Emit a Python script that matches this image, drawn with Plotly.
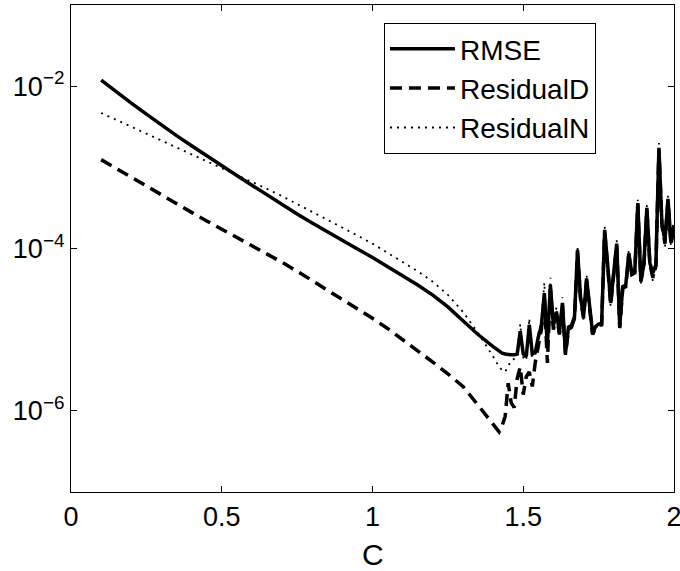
import plotly.graph_objects as go

# x values (c)
c_vals = [0.10, 0.15, 0.20, 0.25, 0.30, 0.35, 0.40, 0.45, 0.50, 0.55, 0.60, 0.65, 0.70,
          0.75, 0.80, 0.85, 0.90, 0.95, 1.00, 1.05, 1.10, 1.15, 1.20, 1.25, 1.30, 1.35, 1.40,
          1.41, 1.42, 1.43, 1.44, 1.45, 1.46, 1.47, 1.48, 1.49, 1.50,
          1.51, 1.52, 1.53, 1.54, 1.55, 1.56, 1.57, 1.58, 1.59, 1.60,
          1.61, 1.62, 1.63, 1.64, 1.65, 1.66, 1.67, 1.68, 1.69, 1.70,
          1.71, 1.72, 1.73, 1.74, 1.75, 1.76, 1.77, 1.78, 1.79, 1.80,
          1.81, 1.82, 1.83, 1.84, 1.85, 1.86, 1.87, 1.88, 1.89, 1.90,
          1.91, 1.92, 1.93, 1.94, 1.95, 1.96, 1.97, 1.98, 1.99, 2.00]

# series values, stored as log10 of the value
rmse_log10 = [-1.925, -2.07, -2.21, -2.345, -2.48, -2.61, -2.735, -2.86, -2.98, -3.10, -3.22, -3.34, -3.46,
              -3.575, -3.685, -3.795, -3.90, -4.005, -4.11, -4.22, -4.33, -4.45, -4.575, -4.72, -4.89, -5.06, -5.21,
              -5.24, -5.27, -5.29, -5.30, -5.31, -5.31, -5.31, -5.30, -5.02, -5.30,
              -5.33, -4.94, -5.30, -5.28, -5.09, -4.95, -4.55, -5.20, -4.45, -4.95,
              -4.78, -5.04, -4.67, -5.29, -4.97, -4.95, -4.84, -4.02, -4.60, -4.84,
              -4.37, -4.70, -5.04, -4.96, -4.93, -4.92, -3.77, -4.20, -4.67, -4.30,
              -3.94, -4.96, -4.47, -4.45, -4.06, -4.30, -4.28, -3.44, -4.39, -4.20,
              -3.50, -4.18, -4.30, -4.20, -2.76, -3.70, -3.90, -3.39, -3.93, -3.71]

residualD_log10 = [-2.905, -3.015, -3.125, -3.23, -3.34, -3.45, -3.555, -3.66, -3.76, -3.86, -3.965, -4.07, -4.17,
                   -4.28, -4.395, -4.51, -4.625, -4.74, -4.86, -4.985, -5.12, -5.255, -5.40, -5.545, -5.70, -5.93, -6.17,
                   -6.21, -6.26, -6.18, -6.07, -5.66, -5.90, -5.96, -5.60, -5.46, -5.80,
                   -5.58, -5.52, -5.70, -5.40, -5.20, -5.00, -4.60, -5.41, -4.50, -5.00,
                   -4.80, -5.06, -4.70, -5.31, -5.00, -4.97, -4.86, -4.05, -4.62, -4.86,
                   -4.40, -4.72, -5.06, -4.98, -4.95, -4.94, -3.80, -4.22, -4.69, -4.32,
                   -3.96, -4.98, -4.49, -4.47, -4.08, -4.32, -4.30, -3.46, -4.41, -4.22,
                   -3.52, -4.20, -4.36, -4.22, -2.78, -3.72, -3.94, -3.41, -3.95, -3.72]

residualN_log10 = [-2.33, -2.415, -2.50, -2.58, -2.665, -2.75, -2.835, -2.92, -3.005, -3.09, -3.18, -3.265, -3.355,
                   -3.45, -3.545, -3.645, -3.745, -3.84, -3.94, -4.05, -4.16, -4.28, -4.41, -4.57, -4.78, -5.04, -5.33,
                   -5.40, -5.46, -5.50, -5.52, -5.45, -5.38, -5.36, -5.30, -4.93, -5.34,
                   -5.38, -4.86, -5.34, -5.32, -5.05, -4.90, -4.42, -5.24, -4.36, -4.98,
                   -4.72, -5.08, -4.60, -5.33, -4.99, -4.96, -4.86, -3.97, -4.63, -4.88,
                   -4.32, -4.72, -5.08, -4.98, -4.95, -4.94, -3.73, -4.22, -4.72, -4.33,
                   -3.90, -5.00, -4.50, -4.48, -4.02, -4.33, -4.31, -3.40, -4.43, -4.24,
                   -3.46, -4.22, -4.40, -4.24, -2.70, -3.74, -3.98, -3.35, -3.97, -3.74]

x_ticks = [0, 0.5, 1, 1.5, 2]
x_ticktext = ["0", "0.5", "1", "1.5", "2"]
y_ticks = [1e-6, 1e-4, 1e-2]
y_ticktext = ["10<sup>\u22126</sup>", "10<sup>\u22124</sup>", "10<sup>\u22122</sup>"]
x_label = "C"

rmse = [10 ** v for v in rmse_log10]
resD = [10 ** v for v in residualD_log10]
resN = [10 ** v for v in residualN_log10]

FONT = "Liberation Sans, Arial, sans-serif"

fig = go.Figure()
fig.add_trace(go.Scatter(x=c_vals, y=resN, mode="lines", name="ResidualN", legendrank=3,
                         line=dict(color="black", width=1.8, dash="2px,5px")))
fig.add_trace(go.Scatter(x=c_vals, y=resD, mode="lines", name="ResidualD", legendrank=2,
                         line=dict(color="black", width=3.5, dash="12px,7px")))
fig.add_trace(go.Scatter(x=c_vals, y=rmse, mode="lines", name="RMSE", legendrank=1,
                         line=dict(color="black", width=3.5)))

axis_common = dict(showline=True, linecolor="black", linewidth=1.3, mirror="ticks",
                   ticks="inside", ticklen=6, tickwidth=1, tickcolor="black",
                   showgrid=False, zeroline=False, automargin=False,
                   ticklabeloverflow="allow",
                   tickfont=dict(family=FONT, size=27, color="black"))

fig.update_xaxes(range=[0, 2], tickvals=x_ticks, ticktext=x_ticktext, **axis_common)
fig.update_yaxes(type="log", range=[-7, -1], tickvals=y_ticks, ticktext=y_ticktext,
                 **axis_common)

# x-axis label placed just under the tick labels
fig.add_annotation(text=x_label, xref="paper", yref="paper", x=0.5, y=-0.1285,
                   xanchor="center", yanchor="middle", showarrow=False, borderpad=0,
                   font=dict(family=FONT, size=30, color="black"))

fig.update_layout(
    width=680, height=571,
    margin=dict(l=71, r=6, t=5, b=79),
    plot_bgcolor="white", paper_bgcolor="white",
    font=dict(family=FONT, color="black"),
    legend=dict(x=0.519, y=0.963, xanchor="left", yanchor="top",
                bgcolor="white", bordercolor="black", borderwidth=1,
                font=dict(family=FONT, size=28, color="black"),
                itemwidth=65, traceorder="normal"),
    showlegend=True,
)

# remove the browser's default 8px page margin so the figure sits at the window origin
fig.write_html("out.html", config={"displayModeBar": False},
               post_script="document.body.style.margin='0';")
